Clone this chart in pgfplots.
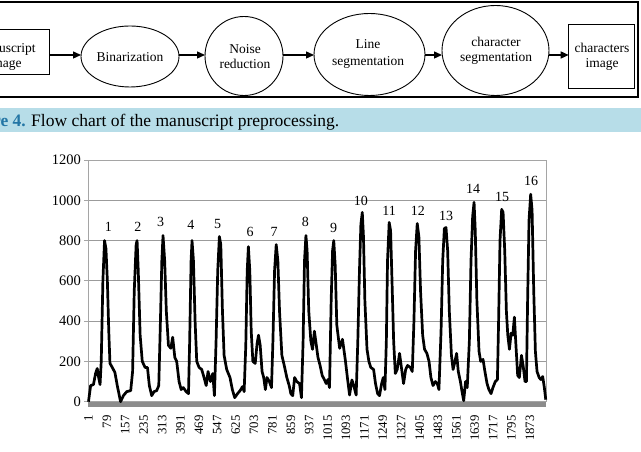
\documentclass[border=0pt]{standalone}
\usepackage{fontspec}
\setmainfont{Liberation Serif}
\usepackage{pgfplots}
\pgfplotsset{compat=1.18}
\usetikzlibrary{arrows.meta}

\definecolor{band}{RGB}{183,221,232}
\definecolor{capblue}{RGB}{36,118,165}
\definecolor{gridgray}{RGB}{155,155,155}
\definecolor{framegray}{RGB}{165,165,165}
\definecolor{bargray}{RGB}{140,140,140}

% profile of the binarized text line
\pgfplotstableread{
x y
1 0
10 80
22 85
31 140
38 165
44 120
50 85
55 200
62 600
69 800
75 760
81 600
87 350
92 190
102 170
113 145
123 80
137 0
149 30
163 50
180 55
188 150
195 550
203 780
207 800
212 650
220 330
229 200
241 170
251 170
259 80
269 30
279 50
290 55
299 80
306 400
312 700
317 825
324 700
331 450
340 280
350 265
358 320
367 220
375 200
385 100
394 60
403 70
415 50
425 40
430 300
436 700
440 800
446 700
453 400
460 200
470 170
481 160
491 120
500 80
508 150
518 100
528 140
535 30
542 300
549 650
556 820
562 780
569 450
576 230
587 160
601 120
611 60
621 20
633 40
644 55
654 75
661 50
668 280
674 650
679 770
685 650
691 350
698 200
708 190
716 290
722 330
729 280
737 150
744 120
751 60
758 120
768 100
777 70
783 300
790 650
797 780
804 700
811 450
821 230
831 180
842 120
852 80
859 40
867 30
875 120
884 100
896 90
904 20
911 300
917 700
923 825
928 750
935 450
944 300
951 260
959 350
966 290
974 220
983 180
992 130
1001 110
1009 90
1016 110
1023 70
1030 500
1036 750
1041 800
1047 680
1054 380
1066 265
1078 310
1090 207
1100 108
1108 33
1118 108
1125 83
1136 33
1143 300
1150 650
1156 880
1162 940
1167 820
1173 500
1182 260
1190 200
1198 170
1210 160
1218 90
1227 40
1235 30
1244 90
1251 120
1258 60
1264 300
1269 700
1276 890
1282 850
1288 600
1295 300
1302 140
1310 160
1320 240
1329 160
1337 90
1346 160
1354 180
1366 170
1374 150
1381 400
1388 750
1395 885
1402 820
1409 550
1418 330
1426 260
1436 240
1445 200
1453 120
1462 80
1472 100
1480 90
1487 60
1496 350
1503 700
1510 860
1517 865
1524 750
1531 450
1540 230
1547 160
1555 200
1562 240
1569 150
1578 100
1585 50
1592 5
1600 100
1607 70
1616 300
1623 700
1630 920
1636 990
1641 850
1648 500
1657 250
1664 200
1674 210
1682 150
1691 90
1699 60
1708 40
1716 70
1726 100
1735 110
1740 400
1746 800
1753 955
1759 940
1766 750
1773 450
1779 330
1786 260
1793 340
1800 330
1807 420
1814 270
1821 130
1828 120
1837 230
1844 180
1852 100
1858 100
1863 500
1869 900
1876 1030
1882 950
1889 550
1896 250
1903 150
1912 120
1919 110
1927 125
1934 70
1940 10
}\profile

\begin{document}
\begin{tikzpicture}[x=1pt,y=1pt]
\useasboundingbox (0,0) rectangle (641,452);
\clip (0,0) rectangle (641,452);

% ---- flow chart ----
\tikzset{fc/.style={font=\fontsize{13.5}{15}\selectfont, anchor=base, inner sep=0pt},
         fcarrow/.style={line width=1.4pt, -{Triangle[length=8pt,width=7pt]}}}
\draw[line width=2pt] (-10,355.3) rectangle (637.5,450.3);

\draw[line width=0.9pt] (-31,377.9) rectangle (49.3,422.7);
\node[fc] at (5,399) {Manuscript};
\node[fc] at (5,384.2) {image};

\draw[line width=0.9pt] (130,395.5) ellipse [x radius=49, y radius=30.5];
\node[fc] at (130,390.5) {Binarization};

\draw[line width=0.9pt] (244,396) ellipse [x radius=39, y radius=39.5];
\node[fc] at (245,398.3) {Noise};
\node[fc] at (245,383.8) {reduction};

\draw[line width=0.9pt] (369.5,397.5) ellipse [x radius=55.5, y radius=41];
\node[fc] at (368,403.3) {Line};
\node[fc] at (368,386.5) {segmentation};

\draw[line width=0.9pt] (495.5,401.5) ellipse [x radius=53.5, y radius=45];
\node[fc] at (496,405) {character};
\node[fc] at (496,390.9) {segmentation};

\draw[line width=0.9pt] (568.7,364) rectangle (634.5,428);
\node[fc] at (602,399) {characters};
\node[fc] at (602,384.2) {image};

\draw[fcarrow] (49.3,397) -- (81,397);
\draw[fcarrow] (179,397) -- (205,397);
\draw[fcarrow] (283,397) -- (314,397);
\draw[fcarrow] (425,397) -- (442,397);
\draw[fcarrow] (549,397) -- (568.7,397);

% ---- caption ----
\fill[band] (0,320) rectangle (641,343.5);
\node[anchor=base east, inner sep=0pt, font=\fontsize{17.5}{19}\selectfont\bfseries, text=capblue] at (26,325.5) {Figure 4.};
\node[anchor=base west, inner sep=0pt, font=\fontsize{17.5}{19}\selectfont] at (31,325.5) {Flow chart of the manuscript preprocessing.};

% ---- profile chart ----
\begin{axis}[
  scale only axis,
  width=457.5pt, height=241.7pt,
  at={(88.5pt,50.3pt)}, anchor=south west,
  xmin=1, xmax=1941, ymin=0, ymax=1200,
  clip=false,
  xtick={1,79,...,1873},
  ytick={0,200,...,1200},
  ymajorgrids,
  grid style={gridgray, line width=0.8pt},
  axis line style={framegray, line width=0.9pt},
  tick align=outside,
  major tick length=4pt,
  ytick pos=left,
  xtick style={draw=none},
  ytick style={framegray, line width=0.8pt},
  /pgf/number format/assume math mode=true,
  /pgf/number format/set thousands separator={},
  xticklabel style={rotate=90, anchor=east, font=\fontsize{12.8}{14}\selectfont},
  xticklabel shift=6pt,
  yticklabel style={font=\fontsize{14.5}{16}\selectfont},
]
\fill[bargray] (rel axis cs:0,0) rectangle ([yshift=-5pt]rel axis cs:1,0);
\addplot[black, line width=2.7pt, line join=round, mark=none] table[x=x,y=y] {\profile};

\tikzset{pk/.style={font=\fontsize{14}{16}\selectfont, inner sep=0pt}}
\node[pk] at (axis cs:85,866) {1};
\node[pk] at (axis cs:210,866) {2};
\node[pk] at (axis cs:307,891) {3};
\node[pk] at (axis cs:435,878) {4};
\node[pk] at (axis cs:549,883) {5};
\node[pk] at (axis cs:686,844) {6};
\node[pk] at (axis cs:788,844) {7};
\node[pk] at (axis cs:921,894) {8};
\node[pk] at (axis cs:1040,861) {9};
\node[pk] at (axis cs:1156,997) {10};
\node[pk] at (axis cs:1276,947) {11};
\node[pk] at (axis cs:1398,947) {12};
\node[pk] at (axis cs:1517,922) {13};
\node[pk] at (axis cs:1632,1056) {14};
\node[pk] at (axis cs:1755,1018) {15};
\node[pk] at (axis cs:1878,1096) {16};
\end{axis}
\end{tikzpicture}
\end{document}
